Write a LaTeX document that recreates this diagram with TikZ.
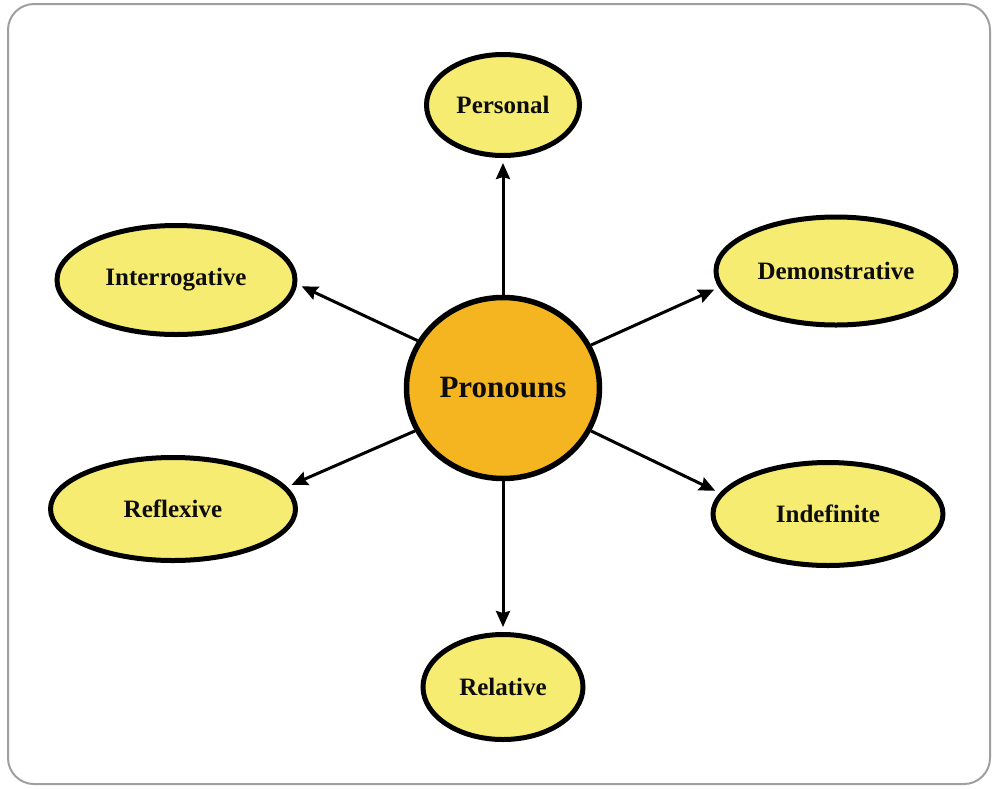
\documentclass[tikz,border=0pt]{standalone}
\usepackage{fontspec}
\setmainfont{Liberation Serif}
\usetikzlibrary{shapes.geometric, arrows.meta}

\definecolor{leafyellow}{HTML}{F6EC72}
\definecolor{huborange}{HTML}{F4B520}

\tikzset{
  leaf/.style={ellipse, draw=black, line width=5pt, fill=leafyellow, inner sep=0pt,
    text=black!95, font=\fontsize{25}{30}\selectfont\bfseries},
  hub/.style={ellipse, draw=black, line width=5.5pt, fill=huborange, inner sep=0pt,
    text=black!95, font=\fontsize{31}{36}\selectfont\bfseries},
  link/.style={-{Stealth[length=16pt,width=14pt,inset=2pt]}, line width=3pt, shorten >=5pt}
}

\begin{document}
\begin{tikzpicture}[x=1pt,y=-1pt]
        \useasboundingbox (0,0) rectangle (997,788);

        % Draw the frame
        \draw[gray!75, line width=2pt, rounded corners=26pt] (8,4) rectangle (990,784);

        % Centre node
        \node[hub, minimum width=193pt, minimum height=181pt] (pron) at (503,388) {Pronouns};

        % Kinds of pronouns
        \node[leaf, minimum width=153pt, minimum height=101pt] (pers) at (503,105) {Personal};
        \node[leaf, minimum width=238pt, minimum height=109pt] (inter) at (176,280) {Interrogative};
        \node[leaf, minimum width=240pt, minimum height=108pt] (demo) at (836,271) {Demonstrative};
        \node[leaf, minimum width=245pt, minimum height=103pt] (refl) at (173,509) {Reflexive};
        \node[leaf, minimum width=230pt, minimum height=103pt] (indef) at (828,514) {Indefinite};
        \node[leaf, minimum width=160pt, minimum height=105pt] (rel) at (503,687) {Relative};

        % Arrows from the centre
        \draw[link] (pron.90) -- (pers.270);
        \draw[link] (pron.151) -- (inter.358);
        \draw[link] (pron.26) -- (demo.188);
        \draw[link] (pron.206) -- (refl.11);
        \draw[link] (pron.334) -- (indef.169);
        \draw[link] (pron.270) -- (rel.90);
\end{tikzpicture}
\end{document}
